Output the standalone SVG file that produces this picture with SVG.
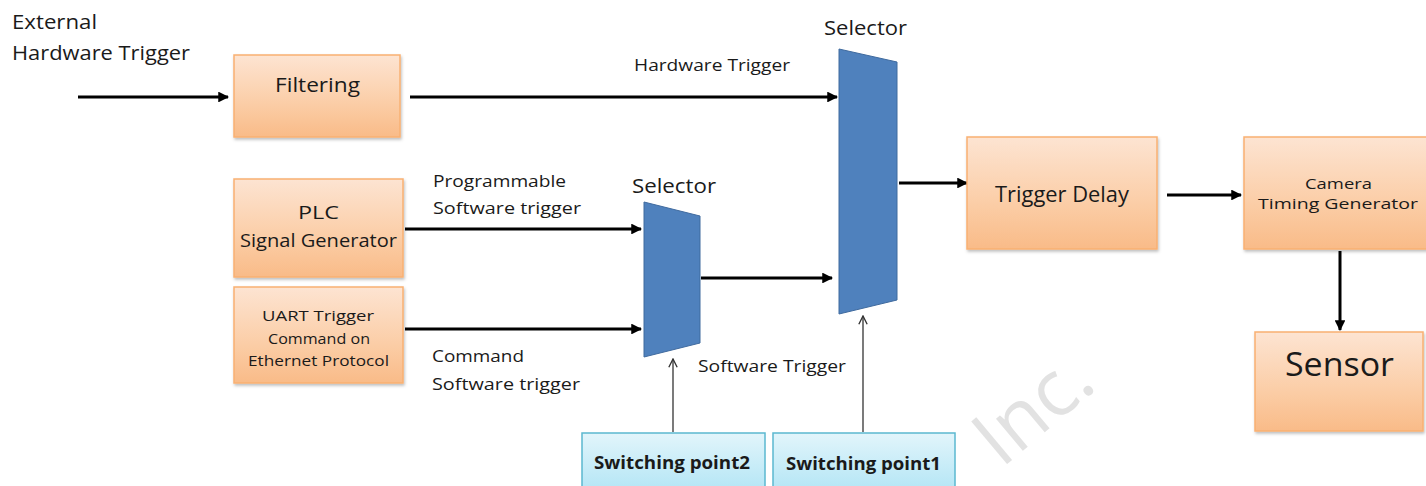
<svg xmlns="http://www.w3.org/2000/svg" width="1426" height="486" viewBox="0 0 1426 486">
<style>
.t{font-family:"Open Sans","Noto Sans","Liberation Sans",sans-serif;fill:#1a1a1a}
.box{fill:url(#og);stroke:#F9B072;stroke-width:1.5;filter:url(#sh)}
.sw{fill:url(#bg);stroke:#5BB8D0;stroke-width:1.5}
.sel{fill:#4F81BD;stroke:#3F6A9E;stroke-width:1}
.c{stroke:#000;stroke-width:3;fill:none;marker-end:url(#ah)}
.cs{stroke:#333;stroke-width:1.3;fill:none;marker-end:url(#ao)}
</style>
<defs>
<linearGradient id="og" x1="0" y1="0" x2="0" y2="1">
<stop offset="0" stop-color="#FDE4D2"/><stop offset="0.6" stop-color="#FBCDA6"/><stop offset="1" stop-color="#F9BB88"/>
</linearGradient>
<linearGradient id="bg" x1="0" y1="0" x2="0" y2="1">
<stop offset="0" stop-color="#E2F5FB"/><stop offset="1" stop-color="#B2E5F5"/>
</linearGradient>
<filter id="sh" x="-10%" y="-10%" width="120%" height="130%">
<feDropShadow dx="1" dy="2" stdDeviation="1.5" flood-color="#000" flood-opacity="0.25"/>
</filter>
<marker id="ah" viewBox="0 0 10 10" refX="9" refY="5" markerWidth="3.6" markerHeight="3.6" orient="auto" markerUnits="strokeWidth">
<path d="M0,0 L10,5 L0,10 z" fill="#000"/>
</marker>
<marker id="ao" viewBox="0 0 10 10" refX="9" refY="5" markerWidth="8" markerHeight="8" orient="auto" markerUnits="strokeWidth">
<path d="M1,1 L9,5 L1,9" fill="none" stroke="#333" stroke-width="1.3"/>
</marker>
</defs>
<rect width="1426" height="486" fill="#fff"/>
<text x="1050" y="428" font-size="78" font-family="'Open Sans','Noto Sans',sans-serif" fill="#e2e2e2" transform="rotate(-40 1050 428)" text-anchor="middle">Inc.</text>

<g id="connectors">
<line class="c" x1="78" y1="97" x2="228" y2="97"/>
<line class="c" x1="410" y1="97" x2="837" y2="97"/>
<line class="c" x1="405" y1="229" x2="641" y2="229"/>
<line class="c" x1="405" y1="329" x2="641" y2="329"/>
<line class="c" x1="701" y1="278" x2="832" y2="278"/>
<line class="c" x1="899" y1="183" x2="967" y2="183"/>
<line class="c" x1="1167" y1="195" x2="1241" y2="195"/>
<line class="c" x1="1340" y1="251" x2="1340" y2="330"/>
<line class="cs" x1="673" y1="432" x2="673" y2="359"/>
<line class="cs" x1="863" y1="432" x2="863" y2="316"/>
</g>

<g id="labels">
<text class="t" font-size="20" x="12" y="29" textLength="85" lengthAdjust="spacingAndGlyphs">External</text>
<text class="t" font-size="20" x="12" y="60" textLength="178" lengthAdjust="spacingAndGlyphs">Hardware Trigger</text>
<text class="t" font-size="17" x="634" y="71" textLength="156" lengthAdjust="spacingAndGlyphs">Hardware Trigger</text>
<text class="t" font-size="17" x="433" y="187" textLength="133" lengthAdjust="spacingAndGlyphs">Programmable</text>
<text class="t" font-size="17" x="433" y="214" textLength="148" lengthAdjust="spacingAndGlyphs">Software trigger</text>
<text class="t" font-size="17" x="432" y="362" textLength="92" lengthAdjust="spacingAndGlyphs">Command</text>
<text class="t" font-size="17" x="432" y="390" textLength="148" lengthAdjust="spacingAndGlyphs">Software trigger</text>
<text class="t" font-size="17" x="698" y="372" textLength="148" lengthAdjust="spacingAndGlyphs">Software Trigger</text>
</g>

<g id="filtering">
<rect class="box" x="234" y="55" width="166" height="82"/>
<text class="t" font-size="20" x="275" y="92" textLength="85" lengthAdjust="spacingAndGlyphs">Filtering</text>
</g>
<g id="plc">
<rect class="box" x="234" y="179" width="169" height="98"/>
<text class="t" font-size="18" x="298" y="219" textLength="41" lengthAdjust="spacingAndGlyphs">PLC</text>
<text class="t" font-size="18" x="240" y="247" textLength="157" lengthAdjust="spacingAndGlyphs">Signal Generator</text>
</g>
<g id="uart">
<rect class="box" x="234" y="287" width="169" height="96"/>
<text class="t" font-size="15" x="262" y="321" textLength="112" lengthAdjust="spacingAndGlyphs">UART Trigger</text>
<text class="t" font-size="15" x="268" y="344" textLength="102" lengthAdjust="spacingAndGlyphs">Command on</text>
<text class="t" font-size="15" x="248" y="366" textLength="141" lengthAdjust="spacingAndGlyphs">Ethernet Protocol</text>
</g>
<g id="selector2">
<polygon class="sel" points="644,202 700,216 700,343 644,357"/>
<text class="t" font-size="20" x="632" y="193" textLength="84" lengthAdjust="spacingAndGlyphs">Selector</text>
</g>
<g id="selector1">
<polygon class="sel" points="839,49 897,62 897,300 839,314"/>
<text class="t" font-size="20" x="824" y="35" textLength="83" lengthAdjust="spacingAndGlyphs">Selector</text>
</g>
<g id="trigger-delay">
<rect class="box" x="967" y="137" width="190" height="112"/>
<text class="t" font-size="22" x="995" y="202" textLength="134" lengthAdjust="spacingAndGlyphs">Trigger Delay</text>
</g>
<g id="camera-timing">
<rect class="box" x="1244" y="137" width="190" height="112"/>
<text class="t" font-size="15" x="1305" y="189" textLength="67" lengthAdjust="spacingAndGlyphs">Camera</text>
<text class="t" font-size="15" x="1258" y="209" textLength="160" lengthAdjust="spacingAndGlyphs">Timing Generator</text>
</g>
<g id="sensor">
<rect class="box" x="1255" y="332" width="168" height="99"/>
<text class="t" font-size="32" x="1285" y="376" textLength="109" lengthAdjust="spacingAndGlyphs">Sensor</text>
</g>
<g id="switching-point2">
<rect class="sw" x="582" y="433" width="183" height="60"/>
<text class="t" font-size="17" font-weight="bold" x="594" y="469" textLength="156" lengthAdjust="spacingAndGlyphs">Switching point2</text>
</g>
<g id="switching-point1">
<rect class="sw" x="773" y="433" width="182" height="60"/>
<text class="t" font-size="17" font-weight="bold" x="786" y="470" textLength="155" lengthAdjust="spacingAndGlyphs">Switching point1</text>
</g>
</svg>
